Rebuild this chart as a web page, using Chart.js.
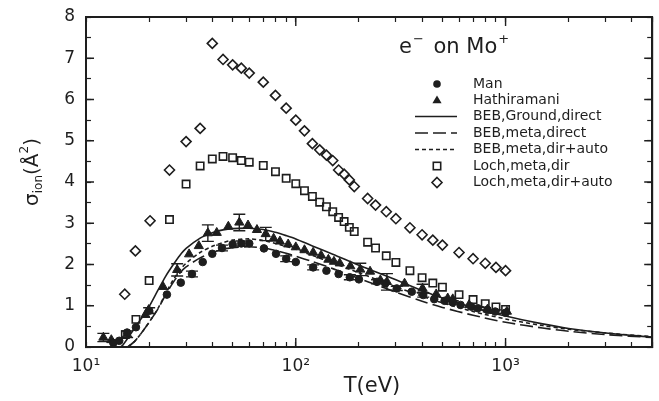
<!DOCTYPE html>
<html>
<head>
<meta charset="utf-8">
<script src="https://cdn.jsdelivr.net/npm/chart.js@4/dist/chart.umd.min.js"></script>
<style>
html,body{margin:0;padding:0;background:#fff;}
canvas{display:block;}
</style>
</head>
<body>
<canvas id="c" width="659" height="401"></canvas>
<script>
// ---------- DATA ----------
const xTickDecades = [10, 100, 1000];
const xTickLabels = ['10\u00B9', '10\u00B2', '10\u00B3'];
const xTickMarks = [10,20,30,40,50,60,70,80,90,100,200,300,400,500,600,700,800,900,1000,2000,3000,4000,5000];
const yTickMarks = [0,0.5,1,1.5,2,2.5,3,3.5,4,4.5,5,5.5,6,6.5,7,7.5,8];

// Man (filled circles)
const manT = [13.5,14.4,15.7,17.3,20,24.3,28.3,32,36,40,44.5,50,55,60,70.5,80.5,90,100,121,140,160,181,200,244,267,303,357,405,457,512,560,610,685,737,820,893,1000];
const manY = [0.10,0.15,0.35,0.48,0.88,1.27,1.56,1.77,2.06,2.26,2.40,2.49,2.51,2.51,2.39,2.26,2.14,2.06,1.93,1.85,1.77,1.69,1.64,1.58,1.54,1.42,1.34,1.26,1.16,1.12,1.08,1.02,0.98,0.94,0.90,0.86,0.83];
const manErr = [0,0,0,0,0.07,0,0,0.07,0,0,0.07,0,0.06,0,0,0,0.07,0,0.06,0,0,0.06,0,0.05,0,0.05,0,0.05,0,0,0.04,0,0,0.04,0,0.04,0];

// Hathiramani (filled triangles)
const hathT = [12.1,13.2,15.7,19.2,19.9,23.3,27.2,31,34.5,38.1,42,47.7,53.8,59.2,65.3,71.9,78.4,84,92,100,110,121,132,143,152,162,182,203,226,253,272,330,402,467,530,560,670,820,1015];
const hathY = [0.23,0.17,0.31,0.78,0.90,1.46,1.87,2.25,2.45,2.76,2.77,2.92,3.02,2.95,2.84,2.74,2.63,2.56,2.49,2.42,2.35,2.29,2.22,2.12,2.07,2.03,1.96,1.88,1.83,1.62,1.58,1.54,1.42,1.28,1.18,1.16,1.02,0.91,0.86];
const hathErr = [0.1,0,0.08,0,0,0,0.15,0,0,0.2,0,0,0.2,0,0,0.16,0,0,0,0,0,0,0,0,0,0,0,0.15,0,0,0.2,0,0.1,0,0,0,0,0,0];

// Loch, meta, dir (open squares)
const lochDirT = [15.4,17.3,20,25,30,35,40,45,50,55,60,70,80,90,100,110,120,130,140,150,160,170,180,190,220,240,270,300,350,400,450,500,600,700,800,900,1000];
const lochDirY = [0.30,0.67,1.61,3.09,3.95,4.39,4.56,4.62,4.59,4.52,4.48,4.40,4.25,4.09,3.96,3.79,3.65,3.51,3.40,3.28,3.14,3.04,2.90,2.80,2.54,2.40,2.21,2.05,1.85,1.68,1.55,1.45,1.27,1.15,1.05,0.97,0.91];

// Loch, meta, dir+auto (open diamonds)
const lochAutoT = [15.3,17.2,20.2,25,30,35,40,45,50,55,60,70,80,90,100,110,120,130,140,150,160,170,180,190,220,240,270,300,350,400,450,500,600,700,800,900,1000];
const lochAutoY = [1.28,2.33,3.06,4.29,4.98,5.30,7.36,6.97,6.84,6.76,6.64,6.42,6.10,5.79,5.50,5.24,4.93,4.78,4.65,4.52,4.29,4.19,4.05,3.89,3.60,3.44,3.28,3.11,2.89,2.72,2.59,2.47,2.29,2.14,2.03,1.93,1.85];

// BEB, Ground, direct (solid)
const bebGT = [14.6,15,16,17,18,19,20,22,24,26,28,30,35,40,45,50,60,70,80,90,100,120,150,200,250,300,400,500,700,1000,1500,2000,3000,5000];
const bebGY = [0,0.05,0.25,0.45,0.63,0.80,0.98,1.37,1.72,1.99,2.22,2.39,2.64,2.77,2.84,2.87,2.88,2.85,2.78,2.70,2.62,2.45,2.25,1.98,1.79,1.63,1.37,1.19,0.96,0.75,0.56,0.45,0.34,0.24];

// BEB, meta, direct (long dash)
const bebMT = [15.8,16,17,18,19,20,22,24,26,28,30,35,40,45,50,60,70,80,90,100,120,150,200,250,300,400,500,700,1000,1500,2000,3000,5000];
const bebMY = [0,0.02,0.13,0.28,0.44,0.60,0.92,1.27,1.56,1.79,1.94,2.16,2.29,2.37,2.41,2.43,2.40,2.34,2.27,2.20,2.07,1.90,1.66,1.48,1.33,1.11,0.96,0.77,0.60,0.46,0.38,0.30,0.23];

// BEB, meta, dir+auto (short dash)
const bebAT = [15.8,16,17,18,19,20,22,24,26,28,30,35,40,45,50,60,70,80,90,100,120,150,200,250,300,400,500,700,1000,1500,2000,3000,5000];
const bebAY = [0,0.02,0.13,0.28,0.44,0.60,0.93,1.30,1.62,1.86,2.03,2.29,2.44,2.53,2.59,2.62,2.58,2.51,2.44,2.37,2.22,2.04,1.80,1.61,1.46,1.23,1.07,0.86,0.68,0.52,0.43,0.34,0.25];

const legendLabels = ['Man','Hathiramani','BEB,Ground,direct','BEB,meta,direct','BEB,meta,dir+auto','Loch,meta,dir','Loch,meta,dir+auto'];

// ---------- BUILD ----------
const INK = '#1e1e1e';
const pts = (t, v) => t.map((x, i) => ({x: x, y: v[i]}));

const datasets = [
  {label:legendLabels[2], data:pts(bebGT,bebGY), showLine:true, pointRadius:0, borderColor:INK, borderWidth:1.6, tension:0.3, order:5},
  {label:legendLabels[3], data:pts(bebMT,bebMY), showLine:true, pointRadius:0, borderColor:INK, borderWidth:1.6, borderDash:[13,5], tension:0.3, order:5},
  {label:legendLabels[4], data:pts(bebAT,bebAY), showLine:true, pointRadius:0, borderColor:INK, borderWidth:1.6, borderDash:[4,3], tension:0.3, order:5},
  {label:legendLabels[0], data:pts(manT,manY), showLine:false, pointStyle:'circle', pointRadius:3.8, backgroundColor:INK, borderColor:INK, borderWidth:1, order:1},
  {label:legendLabels[1], data:pts(hathT,hathY), showLine:false, pointStyle:'triangle', pointRadius:5.3, backgroundColor:INK, borderColor:INK, borderWidth:1, order:1},
  {label:legendLabels[5], data:pts(lochDirT,lochDirY), showLine:false, pointStyle:'rect', pointRadius:5.2, backgroundColor:'rgba(0,0,0,0)', borderColor:INK, borderWidth:1.6, order:2},
  {label:legendLabels[6], data:pts(lochAutoT,lochAutoY), showLine:false, pointStyle:'rectRot', pointRadius:5, backgroundColor:'rgba(0,0,0,0)', borderColor:INK, borderWidth:1.6, order:2}
];

const deco = {
  id: 'deco',
  afterDraw(chart) {
    const ctx = chart.ctx, xs = chart.scales.x, ys = chart.scales.y;
    const L = xs.getPixelForValue(10), R = xs.getPixelForValue(5000);
    const B = ys.getPixelForValue(0), Tp = ys.getPixelForValue(8);
    ctx.save();
    ctx.setLineDash([]);
    ctx.strokeStyle = INK; ctx.fillStyle = INK;
    // error bars
    ctx.lineWidth = 1.4;
    const eb = (T, V, E) => {
      for (let i = 0; i < T.length; i++) {
        if (!E[i]) continue;
        const px = xs.getPixelForValue(T[i]);
        const p1 = ys.getPixelForValue(V[i] + E[i]);
        const p2 = ys.getPixelForValue(V[i] - E[i]);
        ctx.beginPath();
        ctx.moveTo(px, p1); ctx.lineTo(px, p2);
        ctx.moveTo(px - 6, p1); ctx.lineTo(px + 6, p1);
        ctx.moveTo(px - 6, p2); ctx.lineTo(px + 6, p2);
        ctx.stroke();
      }
    };
    eb(manT, manY, manErr);
    eb(hathT, hathY, hathErr);
    // bottom and right frame reinforcement + longer major ticks
    ctx.lineWidth = 2;
    ctx.beginPath();
    ctx.moveTo(L, B); ctx.lineTo(R, B); ctx.lineTo(R, Tp);
    ctx.stroke();
    ctx.lineWidth = 1.4;
    ctx.beginPath();
    for (let v = 0; v <= 8; v++) {
      const py = ys.getPixelForValue(v);
      ctx.moveTo(L, py); ctx.lineTo(L + 8, py);
      ctx.moveTo(R, py); ctx.lineTo(R - 8, py);
    }
    xTickDecades.forEach(d => {
      const px = xs.getPixelForValue(d);
      ctx.moveTo(px, B); ctx.lineTo(px, B - 9);
      ctx.moveTo(px, Tp); ctx.lineTo(px, Tp + 9);
    });
    ctx.stroke();

    // x axis title
    ctx.font = '21px "DejaVu Sans"';
    ctx.textAlign = 'center'; ctx.textBaseline = 'middle';
    ctx.fillText('T(eV)', 372, 387);

    // y axis title
    ctx.save();
    ctx.translate(31, 172);
    ctx.rotate(-Math.PI / 2);
    ctx.textBaseline = 'alphabetic'; ctx.textAlign = 'left';
    const parts = [
      ['\u03C3', '20px "DejaVu Sans"', 0],
      ['ion', '12px "DejaVu Sans"', 4],
      ['(\u00C5', '20px "DejaVu Sans"', 0],
      ['2', '12px "DejaVu Sans"', -10],
      [')', '20px "DejaVu Sans"', 0]
    ];
    let tw = 0;
    parts.forEach(p => { ctx.font = p[1]; tw += ctx.measureText(p[0]).width; });
    let cx = -tw / 2;
    parts.forEach(p => { ctx.font = p[1]; ctx.fillText(p[0], cx, 7 + p[2]); cx += ctx.measureText(p[0]).width; });
    ctx.restore();

    // in-plot title
    ctx.textAlign = 'left'; ctx.textBaseline = 'alphabetic';
    ctx.font = '21px "DejaVu Sans"';
    let tx = 399;
    ctx.fillText('e', tx, 53); tx += ctx.measureText('e').width + 1;
    ctx.font = '13px "DejaVu Sans"';
    ctx.fillText('\u2212', tx, 43); tx += ctx.measureText('\u2212').width + 3;
    ctx.font = '21px "DejaVu Sans"';
    ctx.fillText(' on Mo', tx, 53); tx += ctx.measureText(' on Mo').width + 1;
    ctx.font = '13px "DejaVu Sans"';
    ctx.fillText('+', tx, 43);

    // legend
    const rows = [84, 100.5, 116.5, 133, 149.5, 166, 182.5];
    const mx = 437, lx0 = 415, lx1 = 457, txl = 473;
    ctx.font = '14px "DejaVu Sans"';
    ctx.textBaseline = 'middle';
    rows.forEach((ry, i) => {
      ctx.fillStyle = INK; ctx.strokeStyle = INK;
      if (i === 0) { ctx.beginPath(); ctx.arc(mx, ry, 3.8, 0, Math.PI * 2); ctx.fill(); }
      else if (i === 1) { ctx.beginPath(); ctx.moveTo(mx, ry - 5); ctx.lineTo(mx + 4.6, ry + 2.8); ctx.lineTo(mx - 4.6, ry + 2.8); ctx.closePath(); ctx.fill(); }
      else if (i >= 2 && i <= 4) {
        ctx.lineWidth = 1.6;
        ctx.setLineDash(i === 2 ? [] : (i === 3 ? [13, 5] : [4, 3]));
        ctx.beginPath(); ctx.moveTo(lx0, ry); ctx.lineTo(lx1, ry); ctx.stroke();
        ctx.setLineDash([]);
      } else if (i === 5) { ctx.lineWidth = 1.6; ctx.strokeRect(mx - 3.7, ry - 3.7, 7.4, 7.4); }
      else { ctx.lineWidth = 1.6; ctx.beginPath(); ctx.moveTo(mx, ry - 5); ctx.lineTo(mx + 5, ry); ctx.lineTo(mx, ry + 5); ctx.lineTo(mx - 5, ry); ctx.closePath(); ctx.stroke(); }
      ctx.fillText(legendLabels[i], txl, ry);
    });
    ctx.restore();
  }
};

const tickFont = { family: '"DejaVu Sans"', size: 17 };
const gridOpts = { display: true, drawOnChartArea: false, drawTicks: true, tickLength: -5, tickColor: INK, tickWidth: 1.2, color: INK };
const borderOpts = { display: true, color: INK, width: 2 };
const xTicksBuild = s => { s.ticks = xTickMarks.map(v => ({ value: v })); };
const yTicksBuild = s => { s.ticks = yTickMarks.map(v => ({ value: v })); };

new Chart(document.getElementById('c'), {
  type: 'scatter',
  data: { datasets: datasets },
  plugins: [deco],
  options: {
    responsive: false,
    animation: false,
    layout: { padding: { top: 17, right: -5, left: 0, bottom: 0 } },
    plugins: { legend: { display: false }, tooltip: { enabled: false }, title: { display: false } },
    scales: {
      x: {
        type: 'logarithmic', position: 'bottom', min: 10, max: 5000,
        grid: gridOpts, border: borderOpts,
        afterBuildTicks: xTicksBuild,
        afterFit: s => { s.height = 54; s.paddingLeft = 0; s.paddingRight = 0; },
        ticks: {
          autoSkip: false, maxRotation: 0, minRotation: 0, padding: 14, color: INK, font: tickFont,
          callback: (v) => { const i = xTickDecades.indexOf(v); return i >= 0 ? xTickLabels[i] : ''; }
        }
      },
      x2: {
        type: 'logarithmic', position: 'top', min: 10, max: 5000,
        grid: gridOpts, border: borderOpts,
        afterBuildTicks: xTicksBuild,
        afterFit: s => { s.height = 0; s.paddingLeft = 0; s.paddingRight = 0; },
        ticks: { display: false }
      },
      y: {
        position: 'left', min: 0, max: 8,
        grid: gridOpts, border: borderOpts,
        afterBuildTicks: yTicksBuild,
        afterFit: s => { s.width = 86; s.paddingTop = 0; s.paddingBottom = 0; },
        ticks: {
          autoSkip: false, padding: 16, color: INK, font: tickFont,
          callback: (v) => Number.isInteger(v) ? String(v) : ''
        }
      },
      y2: {
        position: 'right', min: 0, max: 8,
        grid: gridOpts, border: borderOpts,
        afterBuildTicks: yTicksBuild,
        afterFit: s => { s.width = 0; s.paddingTop = 0; s.paddingBottom = 0; },
        ticks: { display: false }
      }
    }
  }
});
</script>
</body>
</html>
